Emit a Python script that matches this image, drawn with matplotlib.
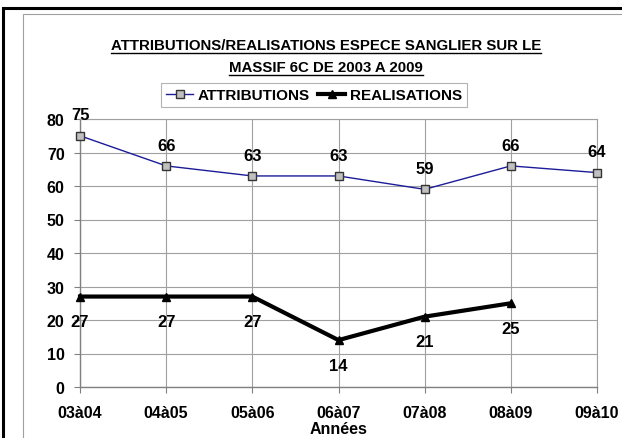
import matplotlib
matplotlib.use("Agg")
import matplotlib.pyplot as plt
from matplotlib.patches import Rectangle
from matplotlib.lines import Line2D

plt.rcParams['font.family'] = ['Liberation Sans', 'DejaVu Sans']

saisons = ["03à04", "04à05", "05à06", "06à07", "07à08", "08à09", "09à10"]
attributions = [75, 66, 63, 63, 59, 66, 64]
realisations = [27, 27, 27, 14, 21, 25]
y_ticks = [0, 10, 20, 30, 40, 50, 60, 70, 80]

W, H = 622, 439
fig = plt.figure(figsize=(W / 100, H / 100), dpi=100)
fig.patch.set_facecolor("white")

# outer frames
fig.add_artist(Rectangle((3 / W, -0.1), 1.2, 1 - 9 / H + 0.1, transform=fig.transFigure,
                         fill=False, edgecolor="black", linewidth=2.2))
fig.add_artist(Rectangle((23 / W, -0.1), 1.2, 1 - 15 / H + 0.1, transform=fig.transFigure,
                         fill=False, edgecolor="#a0a0a0", linewidth=0.8))

ax = fig.add_axes([80 / W, 1 - 388 / H, (597 - 80) / W, (388 - 120) / H])
x = list(range(len(saisons)))

ax.plot(x, attributions, color="#1c1c99", linewidth=1.0, marker="s", markersize=6,
        markerfacecolor="#c0c0c0", markeredgecolor="#333333", markeredgewidth=1.0,
        zorder=4, clip_on=False)
ax.plot(x[:len(realisations)], realisations, color="black", linewidth=3.0, marker="^",
        markersize=6, markerfacecolor="black", markeredgecolor="black",
        zorder=4, clip_on=False)

for xi, v in zip(x, attributions):
    ax.annotate(str(v), (xi, v), xytext=(0, 15), textcoords="offset points",
                ha="center", va="center", fontsize=12, fontweight="bold")
for xi, v in zip(x, realisations):
    ax.annotate(str(v), (xi, v), xytext=(0, -18), textcoords="offset points",
                ha="center", va="center", fontsize=12, fontweight="bold")

ax.set_xlim(0, len(saisons) - 1)
ax.set_ylim(0, 80)
ax.set_yticks(y_ticks)
ax.set_xticks(x)
ax.set_xticklabels(saisons)
ax.tick_params(axis="both", labelsize=11.5, length=4, color="#808080", width=0.8)
ax.tick_params(axis="x", pad=9)
ax.tick_params(axis="y", pad=7)
for lab in ax.get_xticklabels() + ax.get_yticklabels():
    lab.set_fontweight("bold")
ax.grid(True, color="#a0a0a0", linewidth=0.8)
ax.set_axisbelow(True)
for side in ["top", "right"]:
    ax.spines[side].set_color("#a0a0a0")
    ax.spines[side].set_linewidth(0.8)
for side in ["left", "bottom"]:
    ax.spines[side].set_color("#808080")
    ax.spines[side].set_linewidth(1.0)

ax.set_xlabel("Années", fontsize=11.5, fontweight="bold", labelpad=1)

fig.text(326 / W, 1 - 46 / H, "ATTRIBUTIONS/REALISATIONS ESPECE SANGLIER SUR LE",
         ha="center", va="center", fontsize=10.8, fontweight="bold")
fig.text(326 / W, 1 - 68 / H, "MASSIF 6C DE 2003 A 2009",
         ha="center", va="center", fontsize=10.8, fontweight="bold")
fig.canvas.draw()
r = fig.canvas.get_renderer()
for t in fig.texts:
    bb = t.get_window_extent(r)
    y0 = bb.y0 - 1
    fig.add_artist(Line2D([bb.x0 / W, bb.x1 / W], [y0 / H, y0 / H], transform=fig.transFigure,
                          color="black", linewidth=1.0))

handles = [
    Line2D([], [], color="#1c1c99", linewidth=1.0, marker="s", markersize=6,
           markerfacecolor="#c0c0c0", markeredgecolor="#333333"),
    Line2D([], [], color="black", linewidth=3.0, marker="^", markersize=6,
           markerfacecolor="black"),
]
leg = fig.legend(handles, ["ATTRIBUTIONS", "REALISATIONS"], loc="center",
                 bbox_to_anchor=(314 / W, 1 - 96 / H), ncol=2, frameon=True,
                 fancybox=False, edgecolor="#a0a0a0", handlelength=1.8,
                 handletextpad=0.3, columnspacing=0.5, borderpad=0.35,
                 prop={"weight": "bold", "size": 11})
leg.get_frame().set_linewidth(0.8)

fig.savefig("out.png", dpi=100)
